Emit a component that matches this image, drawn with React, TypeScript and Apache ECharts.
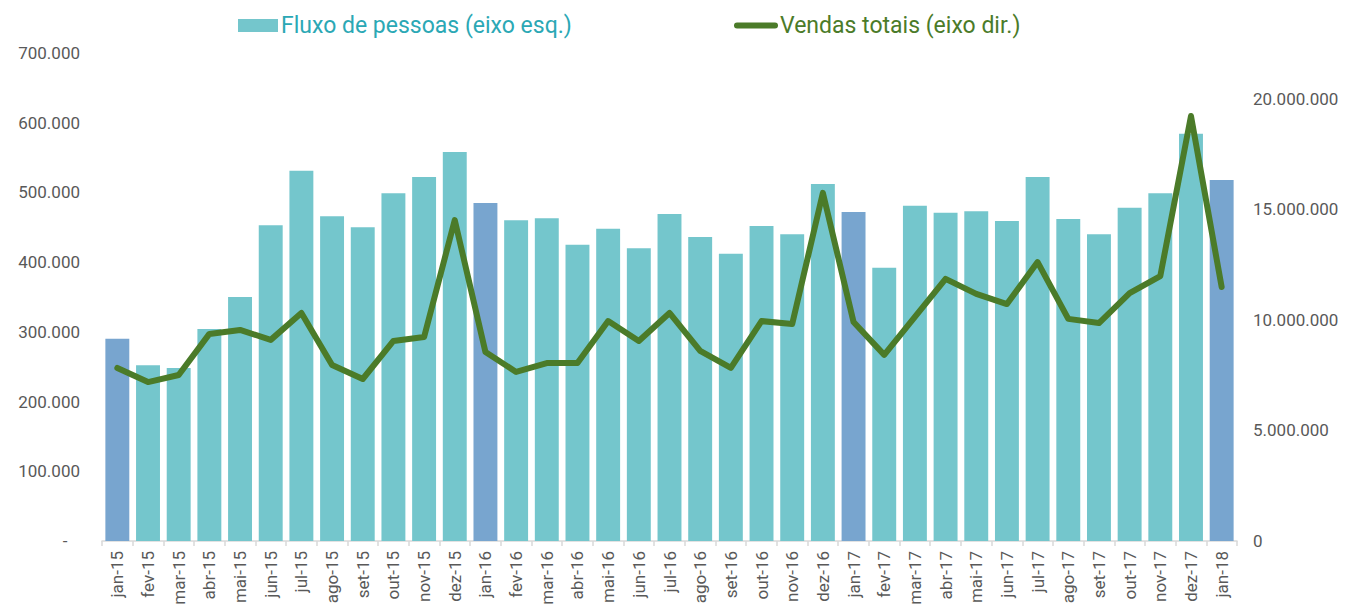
import React, { useEffect, useRef } from "react";
import * as echarts from "echarts";

const categories = [
  "jan-15", "fev-15", "mar-15", "abr-15", "mai-15", "jun-15", "jul-15", "ago-15", "set-15", "out-15", "nov-15", "dez-15",
  "jan-16", "fev-16", "mar-16", "abr-16", "mai-16", "jun-16", "jul-16", "ago-16", "set-16", "out-16", "nov-16", "dez-16",
  "jan-17", "fev-17", "mar-17", "abr-17", "mai-17", "jun-17", "jul-17", "ago-17", "set-17", "out-17", "nov-17", "dez-17",
  "jan-18",
];

const fluxoPessoas = [
  290000, 252000, 248000, 304000, 350000, 453000, 531000, 466000, 450000, 499000, 522000, 558000,
  485000, 460000, 463000, 425000, 448000, 420000, 469000, 436000, 412000, 452000, 440000, 512000,
  472000, 392000, 481000, 471000, 473000, 459000, 522000, 462000, 440000, 478000, 499000, 584000,
  518000,
];

const vendasTotais = [
  7830000, 7190000, 7510000, 9370000, 9550000, 9100000, 10320000, 7960000, 7330000, 9050000, 9230000, 14520000,
  8550000, 7650000, 8050000, 8050000, 9950000, 9050000, 10320000, 8600000, 7830000, 9950000, 9820000, 15750000,
  9910000, 8420000, 10140000, 11860000, 11180000, 10720000, 12620000, 10050000, 9860000, 11220000, 11990000, 19230000,
  11490000,
];

const leftTicks = [0, 100000, 200000, 300000, 400000, 500000, 600000, 700000];
const rightTicks = [0, 5000000, 10000000, 15000000, 20000000];

const fmt = (v: number) => String(Math.round(v)).replace(/\B(?=(\d{3})+(?!\d))/g, ".");

export default function App() {
  const ref = useRef<HTMLDivElement>(null);
  useEffect(() => {
    document.body.style.margin = "0";
    const chart = echarts.init(ref.current!, null, { renderer: "svg" });
    const font = "Roboto, 'Liberation Sans', sans-serif";
    chart.setOption({
      animation: false,
      textStyle: { fontFamily: font },
      legend: [
        {
          left: 233,
          top: 9,
          itemWidth: 40,
          itemHeight: 13,
          itemGap: 4,
          textStyle: { fontSize: 23, color: "#2BA8B5", fontFamily: font, padding: [0, 0, 0, -2] },
          data: [{ name: "Fluxo de pessoas (eixo esq.)", icon: "rect", itemStyle: { color: "#74C6CC" } }],
        },
        {
          left: 729,
          top: 9,
          itemWidth: 44,
          itemHeight: 6,
          textStyle: { fontSize: 23, color: "#4B7B29", fontFamily: font, padding: [0, 0, 0, -3] },
          data: [
            {
              name: "Vendas totais (eixo dir.)",
              icon: "path://M3,0 L41,0 A3,3 0 0 1 41,6 L3,6 A3,3 0 0 1 3,0 Z",
              itemStyle: { color: "#4B7B29", borderWidth: 0 },
            },
          ],
        },
      ],
      grid: {
        left: 102,
        right: 113,
        top: 53,
        bottom: 64,
        containLabel: false,
        outerBoundsMode: "none",
      },
      xAxis: {
        type: "category",
        data: categories,
        boundaryGap: true,
        axisLine: { lineStyle: { color: "#D9D9D9", width: 1.5 } },
        axisTick: { show: true, length: 5, lineStyle: { color: "#D9D9D9", width: 1.5 } },
        axisLabel: { rotate: 90, interval: 0, fontSize: 17, color: "#595959", margin: 10, fontFamily: font },
      },
      yAxis: [
        {
          type: "value",
          min: leftTicks[0],
          max: leftTicks[leftTicks.length - 1],
          interval: leftTicks[1] - leftTicks[0],
          axisLine: { show: false },
          axisTick: { show: false },
          splitLine: { show: false },
          axisLabel: {
            fontSize: 17,
            color: "#595959",
            margin: 22,
            fontFamily: font,
            formatter: (v: number) => (v === 0 ? "-   " : fmt(v)),
          },
        },
        {
          type: "value",
          min: rightTicks[0],
          max: 22080000,
          interval: rightTicks[1] - rightTicks[0],
          axisLine: { show: false },
          axisTick: { show: false },
          splitLine: { show: false },
          axisLabel: {
            fontSize: 17,
            color: "#595959",
            margin: 16,
            fontFamily: font,
            showMaxLabel: false,
            formatter: (v: number) => (rightTicks.includes(v) ? fmt(v) : ""),
          },
        },
      ],
      series: [
        {
          name: "Fluxo de pessoas (eixo esq.)",
          type: "bar",
          yAxisIndex: 0,
          barCategoryGap: "22%",
          itemStyle: { color: "#74C6CC" },
          data: fluxoPessoas.map((v, i) => ({
            value: v,
            itemStyle: { color: categories[i].startsWith("jan") ? "#78A5CF" : "#74C6CC" },
          })),
          z: 2,
        },
        {
          name: "Vendas totais (eixo dir.)",
          type: "line",
          yAxisIndex: 1,
          data: vendasTotais,
          symbol: "none",
          itemStyle: { color: "#4B7B29" },
          lineStyle: { color: "#4B7B29", width: 6, cap: "round", join: "round" },
          z: 3,
        },
      ],
    });
    return () => chart.dispose();
  }, []);
  return (
    <div
      ref={ref}
      style={{ position: "absolute", left: 0, top: 0, width: 1350, height: 605 }}
    />
  );
}
